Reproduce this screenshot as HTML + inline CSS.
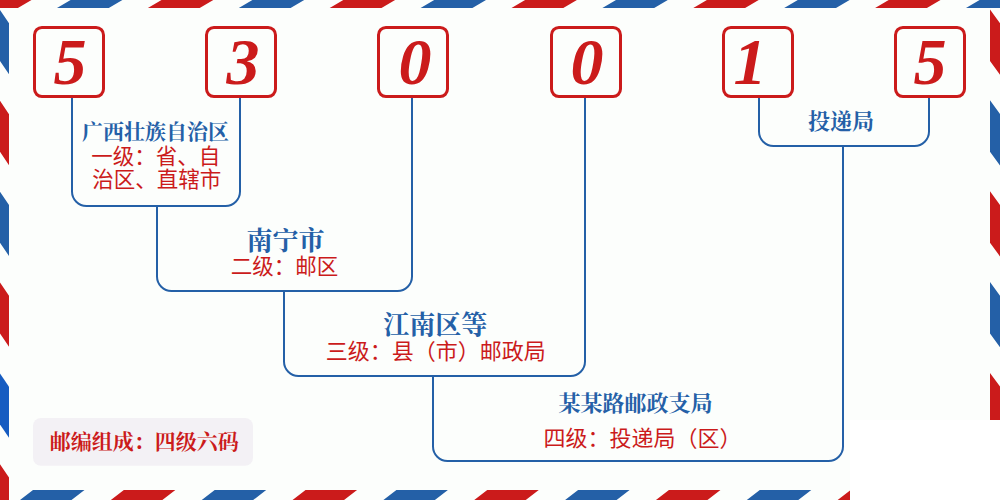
<!DOCTYPE html>
<html lang="zh-CN"><head><meta charset="utf-8"><title>邮编 530015</title>
<style>html,body{margin:0;padding:0}body{width:1000px;height:500px;overflow:hidden;background:#fcfefc;font-family:"Liberation Sans",sans-serif}svg{display:block;position:absolute;left:0;top:0}.dg text{font-family:"Liberation Serif","Noto Serif CJK SC",serif;font-size:66px;font-weight:bold;font-style:italic;fill:#cb1b1b;text-anchor:middle}.sb{font-family:"Liberation Serif","Noto Serif CJK SC",serif;font-weight:bold;fill:#2460a7;text-anchor:middle}.sr{font-family:"Liberation Sans","Noto Sans CJK SC",sans-serif;fill:#cb1b1b;text-anchor:middle}</style></head><body>
<svg role="img" aria-label="邮编 530015 四级六码" width="1000" height="500" viewBox="0 0 1000 500">
<rect width="1000" height="500" fill="#fcfefc"/>
<path fill="#cb1b1b" d="M-33.9,8L17.9,8L31.5,0L-20.3,0ZM147.9,8L199.7,8L213.3,0L161.5,0ZM329.7,8L381.5,8L395.1,0L343.3,0ZM511.5,8L563.3,8L576.9,0L525.1,0ZM693.3,8L745.1,8L758.7,0L706.9,0ZM875.1,8L926.9,8L940.5,0L888.7,0ZM1056.9,8L1108.7,8L1122.3,0L1070.5,0ZM-57.85,490L-6.35,490L-19.35,500L-70.85,500ZM123.85,490L175.35,490L162.35,500L110.85,500ZM305.55,490L357.05,490L344.05,500L292.55,500ZM487.25,490L538.75,490L525.75,500L474.25,500ZM668.95,490L720.45,490L707.45,500L655.95,500ZM850.65,490L902.15,490L889.15,500L837.65,500ZM0,-80.85L9,-67.55L9,-16.55L0,-29.85ZM0,100.85L9,114.15L9,165.15L0,151.85ZM0,282.55L9,295.85L9,346.85L0,333.55ZM0,464.25L9,477.55L9,528.55L0,515.25ZM990,9.5L1000,23.2L1000,74.7L990,61ZM990,191.2L1000,204.9L1000,256.4L990,242.7ZM990,372.9L1000,386.6L1000,438.1L990,424.4Z"/>
<path fill="#2460a7" d="M57,8L108.8,8L122.4,0L70.6,0ZM238.8,8L290.6,8L304.2,0L252.4,0ZM420.6,8L472.4,8L486,0L434.2,0ZM602.4,8L654.2,8L667.8,0L616,0ZM784.2,8L836,8L849.6,0L797.8,0ZM966,8L1017.8,8L1031.4,0L979.6,0ZM33,490L84.5,490L71.5,500L20,500ZM214.7,490L266.2,490L253.2,500L201.7,500ZM396.4,490L447.9,490L434.9,500L383.4,500ZM578.1,490L629.6,490L616.6,500L565.1,500ZM759.8,490L811.3,490L798.3,500L746.8,500ZM0,10L9,23.3L9,74.3L0,61ZM0,191.7L9,205L9,256L0,242.7ZM990,-81.35L1000,-67.65L1000,-16.15L990,-29.85ZM990,100.35L1000,114.05L1000,165.55L990,151.85ZM990,282.05L1000,295.75L1000,347.25L990,333.55Z"/>
<path fill="#165cc1" d="M0,373.4L9,386.7L9,437.7L0,424.4Z"/>
<rect x="33" y="418" width="220" height="47.8" rx="8" fill="#f3f1f5"/>
<path fill="none" stroke="#2460a7" stroke-width="2" d="M72,97V191.5A14.5,14.5 0 0 0 86.5,206H225.5A14.5,14.5 0 0 0 240,191.5V97M157,206V276.5A14.5,14.5 0 0 0 171.5,291H397.5A14.5,14.5 0 0 0 412,276.5V97M284,291V361.5A14.5,14.5 0 0 0 298.5,376H570.5A14.5,14.5 0 0 0 585,361.5V97M433,376V446.5A14.5,14.5 0 0 0 447.5,461H828.5A14.5,14.5 0 0 0 843,446.5V146M759,97V131.5A14.5,14.5 0 0 0 773.5,146H914.5A14.5,14.5 0 0 0 929,131.5V97"/>
<rect x="34.5" y="27.5" width="69" height="69" rx="7.4" fill="#fcfefc" stroke="#cb1b1b" stroke-width="3"/>
<rect x="206.5" y="27.5" width="69" height="69" rx="7.4" fill="#fcfefc" stroke="#cb1b1b" stroke-width="3"/>
<rect x="378.5" y="27.5" width="69" height="69" rx="7.4" fill="#fcfefc" stroke="#cb1b1b" stroke-width="3"/>
<rect x="551.5" y="27.5" width="69" height="69" rx="7.4" fill="#fcfefc" stroke="#cb1b1b" stroke-width="3"/>
<rect x="723.5" y="27.5" width="69" height="69" rx="7.4" fill="#fcfefc" stroke="#cb1b1b" stroke-width="3"/>
<rect x="895.5" y="27.5" width="69" height="69" rx="7.4" fill="#fcfefc" stroke="#cb1b1b" stroke-width="3"/>
<g class="dg" aria-label="5"><text x="70" y="84">5</text></g>
<g class="dg" aria-label="3"><text x="243" y="84">3</text></g>
<g class="dg" aria-label="0"><text x="415" y="84">0</text></g>
<g class="dg" aria-label="0"><text x="587" y="84">0</text></g>
<g class="dg" aria-label="1"><text x="750" y="84">1</text></g>
<g class="dg" aria-label="5"><text x="930" y="84">5</text></g>
<g aria-label="广西壮族自治区"><text class="sb" x="155.5" y="139.3" font-size="21">广西壮族自治区</text></g>
<g aria-label="一级：省、自"><text class="sr" x="155.7" y="163.7" font-size="21.5">一级：省、自</text></g>
<g aria-label="治区、直辖市"><text class="sr" x="156.8" y="187.4" font-size="21.5">治区、直辖市</text></g>
<g aria-label="南宁市"><text class="sb" x="285.6" y="249.5" font-size="26">南宁市</text></g>
<g aria-label="二级：邮区"><text class="sr" x="284.4" y="274.3" font-size="21.5">二级：邮区</text></g>
<g aria-label="江南区等"><text class="sb" x="435.3" y="333.5" font-size="26">江南区等</text></g>
<g aria-label="三级：县（市）邮政局"><text class="sr" x="435.7" y="359" font-size="22">三级：县（市）邮政局</text></g>
<g aria-label="某某路邮政支局"><text class="sb" x="635.4" y="411.2" font-size="22">某某路邮政支局</text></g>
<g aria-label="四级：投递局（区）"><text class="sr" style="text-anchor:start" x="543.5" y="445.6" font-size="22">四级：投递局（区）</text></g>
<g aria-label="投递局"><text class="sb" x="841" y="129.3" font-size="22">投递局</text></g>
<g aria-label="邮编组成：四级六码"><text class="sb" style="fill:#cb1b1b" x="144.2" y="449.4" font-size="21">邮编组成：四级六码</text></g>
<rect x="850" y="420" width="150" height="80" fill="#fff"/>
</svg></body></html>
